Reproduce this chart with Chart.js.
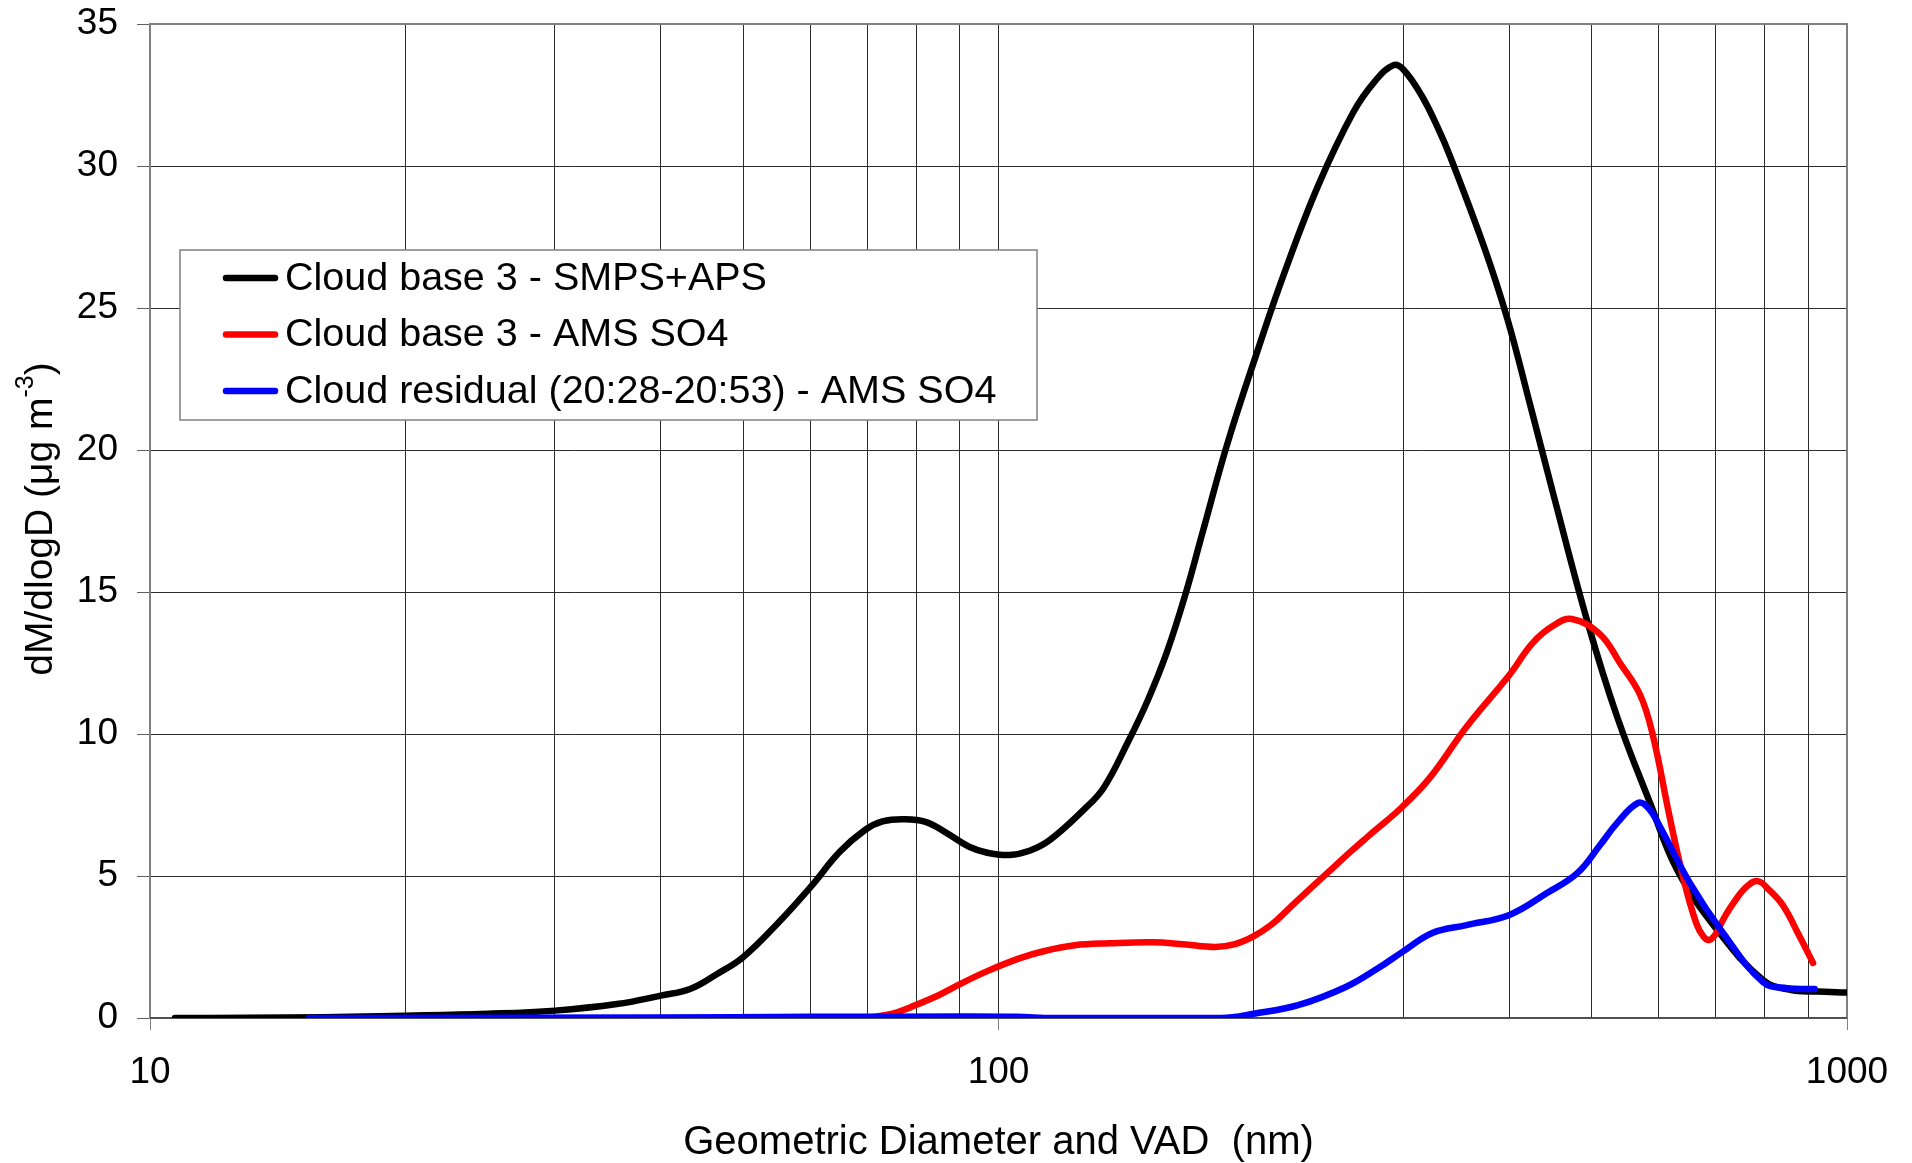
<!DOCTYPE html>
<html>
<head>
<meta charset="utf-8">
<script src="https://cdn.jsdelivr.net/npm/chart.js@4.4.1/dist/chart.umd.min.js"></script>
<style>
  html, body { margin: 0; padding: 0; background: #ffffff; }
</style>
</head>
<body>
<canvas id="chartSize" width="1912" height="1163"></canvas>
<script>
const FONT = "'Liberation Sans', Arial, sans-serif";

// diameters (nm) and dM/dlogD values
const smpsDiam = [10.7, 13, 16, 20, 25, 30, 35.5, 40, 43.3, 46.6, 50, 54.8, 60, 65, 69.6, 73, 77.3, 82.2, 87, 92.2, 97, 103, 109, 115, 126, 133, 142, 150, 158, 166, 174, 186, 202, 217, 238, 262, 278, 292, 300, 315, 330, 341, 374, 398, 424, 452, 495, 536, 586, 631, 703, 796, 857, 920, 1000];
const smpsMass = [0, 0.01, 0.03, 0.08, 0.15, 0.26, 0.49, 0.79, 1.02, 1.55, 2.14, 3.3, 4.6, 5.85, 6.62, 6.92, 7.0, 6.9, 6.5, 6.04, 5.82, 5.74, 5.9, 6.27, 7.33, 8.1, 9.7, 11.2, 12.9, 14.9, 17.1, 20.2, 23.5, 26.2, 29.3, 31.9, 33.0, 33.55, 33.4, 32.5, 31.3, 30.3, 27.1, 24.6, 21.5, 18.3, 13.9, 10.6, 7.57, 5.2, 3.1, 1.34, 0.99, 0.93, 0.9];

const amsBaseDiam = [69.6, 75, 78.9, 85, 90.3, 97, 105.6, 113, 123, 135, 152, 165, 180, 190, 200, 210, 219, 230, 244, 261, 272, 299, 323, 356, 400, 426, 450, 474, 512, 540, 570, 590, 618, 641, 664, 678, 689, 700, 714, 735, 760, 785, 810, 841, 880, 912];
const amsBaseMass = [0, 0.15, 0.39, 0.8, 1.21, 1.65, 2.09, 2.35, 2.56, 2.63, 2.67, 2.6, 2.5, 2.6, 2.88, 3.3, 3.8, 4.4, 5.1, 5.9, 6.37, 7.43, 8.49, 10.25, 12.08, 13.2, 13.8, 14.05, 13.5, 12.5, 11.4, 10.0, 7.08, 4.96, 3.35, 2.85, 2.75, 2.95, 3.45, 4.05, 4.6, 4.82, 4.5, 3.95, 2.85, 1.94];

const residDiam = [15.4, 40, 60, 90, 105, 116, 183, 200, 226, 257, 280, 299, 325, 356, 400, 443, 481, 512, 536, 567, 583, 602, 653, 714, 796, 850, 916];
const residMass = [0, 0.02, 0.04, 0.05, 0.04, 0, 0, 0.15, 0.46, 1.1, 1.75, 2.32, 3.0, 3.27, 3.63, 4.4, 5.1, 6.1, 6.87, 7.57, 7.4, 6.73, 4.75, 3.0, 1.27, 1.05, 1.02];

const seriesLabels = ["Cloud base 3 - SMPS+APS", "Cloud base 3 - AMS SO4", "Cloud residual (20:28-20:53) - AMS SO4"];
const seriesColors = ["#000000", "#ff0000", "#0000ff"];

const xTickValues = [10, 20, 30, 40, 50, 60, 70, 80, 90, 100, 200, 300, 400, 500, 600, 700, 800, 900, 1000];
const xMajor = [10, 100, 1000];
const yTickValues = [0, 5, 10, 15, 20, 25, 30, 35];

function toPoints(xs, ys) {
  return xs.map((x, i) => ({ x, y: ys[i] }));
}

// plot frame (gray box round the plot area)
const framePlugin = {
  id: "frame",
  beforeDatasetsDraw(chart) {
    const { ctx, chartArea: a } = chart;
    ctx.save();
    ctx.strokeStyle = "#808080";
    ctx.lineWidth = 2;
    ctx.strokeRect(a.left, a.top, a.right - a.left, a.bottom - a.top);
    ctx.strokeStyle = "#505050";
    ctx.beginPath();
    ctx.moveTo(a.left, a.bottom);
    ctx.lineTo(a.right, a.bottom);
    ctx.stroke();
    ctx.restore();
  },
};

// boxed legend inside the plot, Excel style
const boxLegendPlugin = {
  id: "boxLegend",
  afterDatasetsDraw(chart) {
    const { ctx } = chart;
    ctx.save();
    ctx.fillStyle = "#ffffff";
    ctx.fillRect(180, 250, 857, 170);
    ctx.strokeStyle = "#808080";
    ctx.lineWidth = 1.5;
    ctx.strokeRect(180, 250, 857, 170);
    ctx.font = "39.5px " + FONT;
    ctx.textBaseline = "middle";
    ctx.lineCap = "round";
    seriesLabels.forEach((label, i) => {
      const y = 278 + i * 56.5;
      ctx.strokeStyle = seriesColors[i];
      ctx.lineWidth = 6.5;
      ctx.beginPath();
      ctx.moveTo(226, y);
      ctx.lineTo(275, y);
      ctx.stroke();
      ctx.fillStyle = "#000000";
      ctx.fillText(label, 285, y + 1);
    });
    ctx.restore();
  },
};

// rotated y title with a real superscript
const yTitlePlugin = {
  id: "yTitle",
  afterDraw(chart) {
    const { ctx, chartArea: a } = chart;
    const main = "dM/dlogD (\u03bcg m";
    const sup = "-3";
    const tail = ")";
    ctx.save();
    ctx.translate(38, (a.top + a.bottom) / 2 - 2);
    ctx.rotate(-Math.PI / 2);
    ctx.fillStyle = "#000000";
    ctx.textBaseline = "alphabetic";
    ctx.font = "39px " + FONT;
    const w1 = ctx.measureText(main).width;
    const w3 = ctx.measureText(tail).width;
    ctx.font = "25px " + FONT;
    const w2 = ctx.measureText(sup).width;
    let x = -(w1 + w2 + w3) / 2;
    ctx.font = "39px " + FONT;
    ctx.fillText(main, x, 14);
    x += w1;
    ctx.font = "25px " + FONT;
    ctx.fillText(sup, x, -5);
    x += w2;
    ctx.font = "39px " + FONT;
    ctx.fillText(tail, x, 14);
    ctx.restore();
  },
};

const ctx = document.getElementById("chartSize").getContext("2d");
new Chart(ctx, {
  type: "line",
  data: {
    datasets: [
      { label: seriesLabels[0], data: toPoints(smpsDiam, smpsMass), borderColor: seriesColors[0], borderWidth: 6.5, order: 3 },
      { label: seriesLabels[1], data: toPoints(amsBaseDiam, amsBaseMass), borderColor: seriesColors[1], borderWidth: 6.5, order: 2 },
      { label: seriesLabels[2], data: toPoints(residDiam, residMass), borderColor: seriesColors[2], borderWidth: 6.5, order: 1 },
    ],
  },
  options: {
    responsive: false,
    animation: false,
    parsing: false,
    layout: { padding: { top: 24, right: 65, left: 0, bottom: 0 } },
    elements: {
      line: { tension: 0.4, borderCapStyle: "round", borderJoinStyle: "round", fill: false },
      point: { radius: 0, hoverRadius: 0 },
    },
    plugins: { legend: { display: false }, tooltip: { enabled: false } },
    scales: {
      x: {
        type: "logarithmic",
        min: 10,
        max: 1000,
        afterBuildTicks: (s) => { s.ticks = xTickValues.map((v) => ({ value: v })); },
        afterFit: (s) => { s.height = 145; s.paddingLeft = 0; s.paddingRight = 0; },
        ticks: {
          autoSkip: false,
          maxRotation: 0,
          padding: 21,
          color: "#000000",
          font: { family: FONT, size: 37 },
          callback: (v) => (xMajor.includes(v) ? String(v) : ""),
        },
        grid: {
          color: "#2b2b2b",
          lineWidth: 1,
          tickLength: 12,
          tickColor: (c) => (c.tick && xMajor.includes(c.tick.value) ? "#808080" : "rgba(0,0,0,0)"),
        },
        border: { display: false },
        title: {
          display: true,
          text: "Geometric Diameter and VAD  (nm)",
          color: "#000000",
          font: { family: FONT, size: 40, lineHeight: 1.0 },
          padding: { top: 0, bottom: 0 },
        },
      },
      y: {
        type: "linear",
        min: 0,
        max: 35,
        afterBuildTicks: (s) => { s.ticks = yTickValues.map((v) => ({ value: v })); },
        afterFit: (s) => { s.width = 150; s.paddingTop = 0; s.paddingBottom = 0; },
        ticks: {
          padding: 19,
          color: "#000000",
          font: { family: FONT, size: 37 },
        },
        grid: { color: "#2b2b2b", lineWidth: 1, tickLength: 13, tickColor: "#606060" },
        border: { display: false },
      },
    },
  },
  plugins: [framePlugin, boxLegendPlugin, yTitlePlugin],
});
</script>
</body>
</html>
